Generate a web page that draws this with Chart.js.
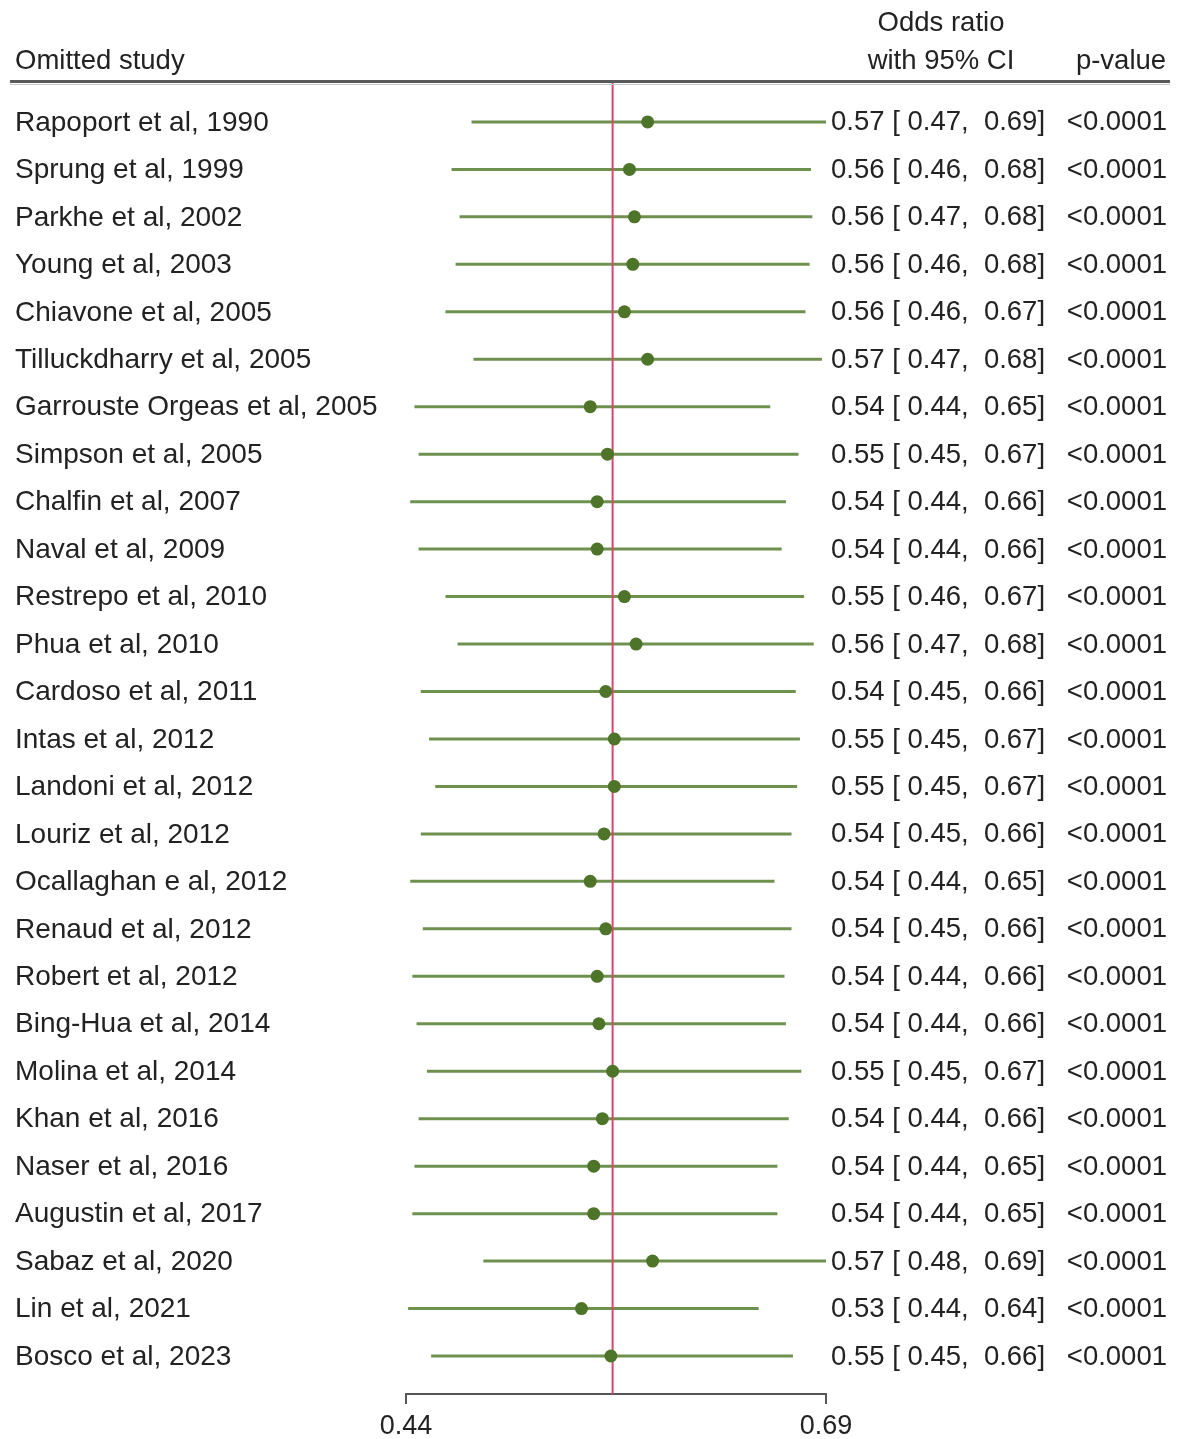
<!DOCTYPE html>
<html>
<head>
<meta charset="utf-8">
<script src="https://cdn.jsdelivr.net/npm/chart.js@4/dist/chart.umd.min.js"></script>
<style>
    body { margin: 0; background: white; }
    #wrap { width: 1182px; height: 1439px; }
</style>
</head>
<body>
<div id="wrap"><canvas id="myChart" width="1182" height="1439"></canvas></div>
<script>
var studies = ["Rapoport et al, 1990", "Sprung et al, 1999", "Parkhe et al, 2002", "Young et al, 2003",
    "Chiavone et al, 2005", "Tilluckdharry et al, 2005", "Garrouste Orgeas et al, 2005", "Simpson et al, 2005",
    "Chalfin et al, 2007", "Naval et al, 2009", "Restrepo et al, 2010", "Phua et al, 2010",
    "Cardoso et al, 2011", "Intas et al, 2012", "Landoni et al, 2012", "Louriz et al, 2012",
    "Ocallaghan e al, 2012", "Renaud et al, 2012", "Robert et al, 2012", "Bing-Hua et al, 2014",
    "Molina et al, 2014", "Khan et al, 2016", "Naser et al, 2016", "Augustin et al, 2017",
    "Sabaz et al, 2020", "Lin et al, 2021", "Bosco et al, 2023"];
// estimates (log scale)
var or_est = [0.570, 0.559, 0.562, 0.561, 0.556, 0.570, 0.536, 0.546, 0.540, 0.540, 0.556, 0.563,
    0.545, 0.550, 0.550, 0.544, 0.536, 0.545, 0.540, 0.541, 0.549, 0.543, 0.538, 0.538, 0.573, 0.531, 0.548];
var ci_lo = [0.472, 0.462, 0.466, 0.464, 0.459, 0.473, 0.444, 0.446, 0.442, 0.446, 0.459, 0.465,
    0.447, 0.451, 0.454, 0.447, 0.442, 0.448, 0.443, 0.445, 0.450, 0.446, 0.444, 0.443, 0.478, 0.441, 0.452];
var ci_hi = [0.690, 0.679, 0.680, 0.678, 0.675, 0.687, 0.650, 0.670, 0.661, 0.658, 0.674, 0.681,
    0.668, 0.671, 0.669, 0.665, 0.653, 0.665, 0.660, 0.661, 0.672, 0.663, 0.655, 0.655, 0.690, 0.642, 0.666];
// texts as printed in the table
var or_text = ["0.57 [ 0.47,  0.69]", "0.56 [ 0.46,  0.68]", "0.56 [ 0.47,  0.68]", "0.56 [ 0.46,  0.68]",
    "0.56 [ 0.46,  0.67]", "0.57 [ 0.47,  0.68]", "0.54 [ 0.44,  0.65]", "0.55 [ 0.45,  0.67]",
    "0.54 [ 0.44,  0.66]", "0.54 [ 0.44,  0.66]", "0.55 [ 0.46,  0.67]", "0.56 [ 0.47,  0.68]",
    "0.54 [ 0.45,  0.66]", "0.55 [ 0.45,  0.67]", "0.55 [ 0.45,  0.67]", "0.54 [ 0.45,  0.66]",
    "0.54 [ 0.44,  0.65]", "0.54 [ 0.45,  0.66]", "0.54 [ 0.44,  0.66]", "0.54 [ 0.44,  0.66]",
    "0.55 [ 0.45,  0.67]", "0.54 [ 0.44,  0.66]", "0.54 [ 0.44,  0.65]", "0.54 [ 0.44,  0.65]",
    "0.57 [ 0.48,  0.69]", "0.53 [ 0.44,  0.64]", "0.55 [ 0.45,  0.66]"];
var p_text = "<0.0001";
var overall = 0.549;
var x_ticks = [0.44, 0.69];

var y_top = -0.82;
var y_bottom = 26.8;
var font_family = '"Liberation Sans", Arial, sans-serif';
var txt_color = '#222';

// one small dataset per CI line
var datasets = [];
datasets.push({
    label: 'est',
    data: or_est.map((v, i) => ({ x: v, y: i })),
    pointRadius: 6.5,
    pointBackgroundColor: '#4d7429',
    pointBorderWidth: 0,
    showLine: false,
    order: 0
});
datasets.push({
    label: 'overall',
    data: [{ x: overall, y: y_top }, { x: overall, y: y_bottom }],
    borderColor: '#dc4470',
    borderWidth: 2,
    pointRadius: 0,
    showLine: true,
    order: 1
});
for (let i = 0; i < studies.length; i++) {
    datasets.push({
        label: 'ci' + i,
        data: [{ x: ci_lo[i], y: i }, { x: ci_hi[i], y: i }],
        borderColor: '#6f9150',
        borderWidth: 3,
        pointRadius: 0,
        showLine: true,
        order: 2
    });
}

var textPlugin = {
    id: 'forestText',
    afterDraw(chart) {
        let ctx = chart.ctx;
        let ys = chart.scales.y;
        ctx.save();
        ctx.fillStyle = txt_color;
        ctx.textBaseline = 'middle';
        for (let i = 0; i < studies.length; i++) {
            let y = ys.getPixelForValue(i) + 1;
            ctx.font = '28px ' + font_family;
            ctx.textAlign = 'left';
            ctx.fillText(studies[i], 15, y);
            ctx.font = '27.5px ' + font_family;
            ctx.fillText(or_text[i], 831, y);
            ctx.textAlign = 'right';
            ctx.fillText(p_text, 1167, y);
        }
        // header
        ctx.font = '27.5px ' + font_family;
        ctx.textAlign = 'left';
        ctx.fillText('Omitted study', 15, 61);
        ctx.textAlign = 'center';
        ctx.fillText('Odds ratio', 941, 23);
        ctx.fillText('with 95% CI', 941, 61);
        ctx.fillText('p-value', 1121, 61);
        // header rule
        ctx.strokeStyle = '#5a5a5a';
        ctx.lineWidth = 3;
        ctx.beginPath();
        ctx.moveTo(10, 81.5);
        ctx.lineTo(1170, 81.5);
        ctx.stroke();
        ctx.strokeStyle = '#c8c8c8';
        ctx.lineWidth = 1;
        ctx.beginPath();
        ctx.moveTo(10, 84.5);
        ctx.lineTo(1170, 84.5);
        ctx.stroke();
        ctx.restore();
    }
};

var chart = new Chart(document.getElementById('myChart'), {
    type: 'scatter',
    data: { datasets: datasets },
    options: {
        responsive: false,
        animation: false,
        devicePixelRatio: 1,
        layout: { padding: { left: 406, right: 356, top: 83, bottom: 0 } },
        scales: {
            x: {
                type: 'logarithmic',
                min: 0.44,
                max: 0.69,
                afterBuildTicks: (scale) => { scale.ticks = x_ticks.map(v => ({ value: v })); },
                afterFit: (scale) => { scale.height = 45; },
                ticks: {
                    callback: (v) => Number(v).toFixed(2),
                    color: txt_color,
                    font: { family: font_family, size: 27 },
                    maxRotation: 0,
                    autoSkip: false,
                    padding: 6
                },
                grid: { drawOnChartArea: false, drawTicks: true, tickLength: 10, color: '#555', lineWidth: 2 },
                border: { display: true, color: '#555', width: 2 }
            },
            y: {
                display: false,
                reverse: true,
                min: y_top,
                max: y_bottom
            }
        },
        plugins: {
            legend: { display: false },
            tooltip: { enabled: false }
        }
    },
    plugins: [textPlugin]
});
</script>
</body>
</html>
